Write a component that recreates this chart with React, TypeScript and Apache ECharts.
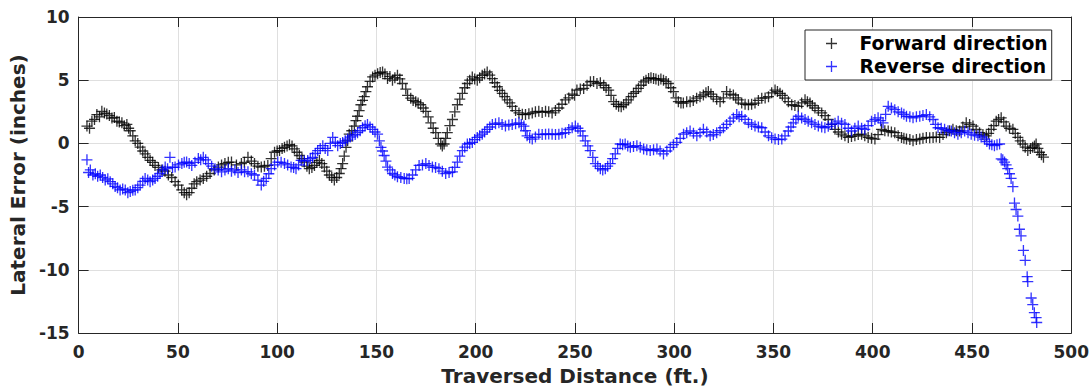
import React, { useEffect, useRef } from "react";
import * as echarts from "echarts";

const xTicks = [0, 50, 100, 150, 200, 250, 300, 350, 400, 450, 500];
const yTicks = [-15, -10, -5, 0, 5, 10];
const seriesNames = ["Forward direction", "Reverse direction"];

const fwdX = [
  4.2, 5.5, 6.7, 8.0, 9.2, 10.5, 11.7, 13.0, 14.2, 15.5, 16.8, 18.0, 19.3, 20.5, 21.8, 23.0, 24.3, 25.2, 26.0, 27.3,
  28.5, 29.8, 31.0, 32.3, 33.5, 34.8, 36.0, 37.3, 38.5, 40.2, 41.9, 43.5, 45.2, 46.9, 48.6, 50.2, 51.9, 53.2, 54.4, 55.7,
  57.0, 58.2, 59.5, 61.2, 62.8, 64.5, 66.2, 68.3, 70.4, 72.0, 73.7, 75.4, 77.0, 79.5, 82.0, 83.5, 85.3, 87.0, 88.6, 90.3,
  92.0, 93.6, 95.3, 97.0, 98.7, 100.0, 101.2, 102.5, 103.7, 105.0, 106.2, 107.5, 108.7, 110.0, 111.2, 112.5, 113.7, 115.0, 116.2, 117.5,
  118.8, 120.0, 121.3, 122.5, 123.8, 125.0, 126.3, 127.5, 128.8, 130.0, 131.3, 132.2, 133.0, 133.8, 134.7, 135.5, 136.3, 137.6, 138.9, 139.7,
  140.5, 141.3, 142.2, 143.0, 143.9, 144.7, 145.5, 146.8, 148.1, 149.3, 150.6, 151.9, 153.1, 154.3, 155.6, 156.8, 158.1, 159.3, 160.6, 161.8,
  163.1, 164.8, 165.7, 167.3, 168.5, 169.8, 171.0, 172.3, 173.6, 174.9, 176.1, 177.4, 178.6, 179.9, 181.2, 182.4, 183.2, 184.1, 184.9, 185.7,
  187.0, 188.3, 189.5, 190.8, 192.0, 193.3, 194.5, 195.8, 197.0, 198.3, 199.5, 200.8, 202.0, 203.3, 204.5, 205.8, 207.1, 208.4, 209.6, 210.9,
  212.1, 213.4, 214.6, 215.9, 217.2, 218.4, 220.1, 221.8, 223.5, 225.1, 226.8, 228.5, 230.1, 231.8, 233.5, 235.2, 236.8, 238.5, 240.2, 241.9,
  243.5, 245.2, 246.9, 248.6, 249.8, 251.0, 252.7, 254.4, 256.1, 257.8, 259.4, 261.1, 262.8, 264.5, 265.7, 267.0, 268.2, 269.5, 270.8, 272.0,
  273.3, 274.5, 275.8, 277.0, 278.3, 279.5, 280.8, 282.0, 283.3, 284.6, 285.8, 287.1, 288.3, 289.6, 290.8, 292.1, 293.3, 294.6, 295.9, 297.1,
  298.3, 299.6, 300.9, 302.1, 303.4, 304.6, 306.3, 308.0, 309.6, 311.3, 313.0, 314.7, 316.0, 317.2, 318.5, 319.7, 321.4, 323.1, 324.8, 326.4,
  328.1, 329.8, 331.0, 332.3, 334.0, 335.7, 337.4, 339.0, 340.7, 342.4, 344.1, 345.8, 347.5, 349.1, 350.8, 352.0, 353.3, 354.5, 355.8, 357.5,
  359.2, 360.8, 362.5, 364.2, 365.9, 367.1, 368.4, 369.6, 370.9, 372.6, 374.3, 376.0, 377.6, 379.3, 381.0, 382.7, 384.3, 386.0, 387.7, 389.3,
  391.0, 392.7, 394.4, 396.0, 397.7, 399.4, 401.1, 402.7, 404.4, 406.1, 407.8, 409.4, 411.1, 412.8, 414.5, 415.7, 417.0, 418.7, 420.3, 422.0,
  423.7, 425.3, 427.0, 428.7, 430.4, 432.0, 433.7, 435.4, 437.1, 438.7, 440.4, 442.1, 443.8, 445.4, 447.1, 448.8, 450.5, 452.1, 453.8, 455.5,
  457.2, 458.4, 459.7, 461.0, 462.2, 463.4, 464.7, 466.0, 467.2, 468.9, 470.6, 471.8, 473.1, 474.3, 475.6, 476.8, 478.1, 479.4, 480.6, 481.5,
  482.3, 483.2, 484.0, 485.0, 486.0,
];
const fwdY = [
  1.37, 1.2, 1.76, 1.9, 2.28, 2.1, 2.54, 2.4, 2.33, 2.2, 2.0, 2.05, 1.76, 1.7, 1.63, 1.4, 1.5, 1.2, 1.0, 0.6,
  0.2, 0.0, -0.3, -0.6, -0.83, -1.1, -1.35, -1.5, -1.74, -1.9, -2.1, -2.2, -2.5, -2.7, -3.03, -3.3, -3.68, -3.9, -4.07, -3.9,
  -3.55, -3.2, -3.03, -2.9, -2.77, -2.6, -2.38, -2.1, -1.87, -1.7, -1.6, -1.5, -1.48, -1.7, -1.6, -1.5, -1.1, -1.4, -1.6, -1.8,
  -1.87, -1.8, -1.74, -1.2, -0.7, -0.6, -0.57, -0.4, -0.31, -0.2, -0.1, -0.2, -0.44, -0.7, -0.96, -1.2, -1.48, -1.8, -2.0, -1.9,
  -1.74, -1.5, -1.35, -1.6, -1.87, -2.2, -2.5, -2.7, -2.9, -2.7, -2.38, -2.0, -1.6, -1.0, -0.31, 0.2, 0.73, 1.0, 1.37, 1.8,
  2.15, 2.6, 3.06, 3.4, 3.7, 4.1, 4.48, 4.9, 5.26, 5.4, 5.52, 5.6, 5.65, 5.5, 5.13, 5.3, 5.0, 5.2, 5.39, 5.1,
  4.74, 4.3, 3.8, 3.58, 3.4, 3.3, 3.2, 3.06, 2.8, 2.54, 2.1, 1.63, 1.2, 0.85, 0.4, -0.05, -0.2, -0.05, 0.4, 0.85,
  1.4, 1.89, 2.5, 3.06, 3.5, 3.96, 4.4, 4.74, 5.0, 5.26, 5.1, 5.0, 5.2, 5.39, 5.5, 5.65, 5.4, 5.13, 4.8, 4.48,
  4.2, 3.96, 3.7, 3.45, 3.2, 2.93, 2.6, 2.41, 2.3, 2.28, 2.35, 2.41, 2.5, 2.54, 2.45, 2.54, 2.5, 2.41, 2.6, 2.8,
  3.1, 3.45, 3.6, 3.9, 3.8, 4.22, 4.3, 4.35, 4.6, 4.87, 4.9, 4.74, 4.8, 4.6, 4.4, 4.22, 3.8, 3.3, 3.1, 2.93,
  2.9, 3.06, 3.2, 3.45, 3.7, 3.96, 4.1, 4.35, 4.6, 4.87, 5.0, 5.13, 5.2, 5.13, 5.1, 5.0, 5.1, 5.0, 4.9, 4.74,
  4.4, 4.1, 3.6, 3.3, 3.2, 3.19, 3.3, 3.3, 3.4, 3.58, 3.7, 3.83, 4.0, 4.1, 3.9, 3.7, 3.5, 3.3, 3.6, 4.1,
  3.9, 3.83, 3.6, 3.45, 3.19, 3.1, 3.06, 3.1, 3.19, 3.4, 3.58, 3.6, 3.7, 4.0, 4.22, 4.1, 3.96, 3.8, 3.58, 3.3,
  3.06, 3.0, 2.93, 3.2, 3.45, 3.3, 3.19, 3.0, 2.8, 2.6, 2.41, 2.2, 1.89, 1.5, 1.11, 0.9, 0.73, 0.6, 0.47, 0.55,
  0.6, 0.7, 0.73, 0.6, 0.47, 0.4, 0.34, 0.7, 1.11, 1.0, 0.98, 0.9, 0.85, 0.6, 0.47, 0.4, 0.34, 0.3, 0.2, 0.3,
  0.34, 0.4, 0.47, 0.45, 0.47, 0.5, 0.47, 0.7, 0.85, 1.0, 1.11, 1.0, 0.98, 1.3, 1.63, 1.5, 1.37, 1.1, 0.85, 0.7,
  0.6, 0.8, 1.11, 1.4, 1.76, 1.9, 2.02, 1.7, 1.37, 1.2, 1.11, 0.8, 0.47, 0.2, -0.05, -0.3, -0.57, -0.4, -0.31, -0.2,
  -0.05, -0.4, -0.7, -0.9, -1.09,
];

const revX = [
  4.2, 5.0, 5.9, 7.2, 8.4, 9.6, 10.9, 12.1, 13.4, 14.7, 15.9, 17.2, 18.4, 19.6, 20.9, 22.2, 23.5, 24.8, 26.0, 27.3,
  28.5, 29.8, 31.0, 32.3, 33.5, 34.8, 36.0, 37.3, 38.5, 39.8, 41.0, 42.3, 43.6, 44.8, 46.0, 47.3, 48.6, 50.3, 52.0, 53.2,
  54.4, 55.7, 57.0, 58.6, 60.3, 61.5, 62.8, 64.0, 65.3, 67.0, 68.7, 70.3, 72.0, 73.7, 75.4, 77.0, 78.7, 80.3, 82.0, 83.6,
  85.3, 87.0, 88.6, 90.3, 92.0, 93.2, 94.5, 95.8, 97.0, 98.7, 100.3, 102.0, 103.7, 105.3, 107.0, 108.3, 109.5, 110.8, 112.1, 113.7,
  115.4, 116.7, 117.9, 119.2, 120.4, 121.7, 123.0, 124.2, 125.5, 126.8, 128.0, 129.3, 130.5, 131.8, 133.0, 134.3, 135.5, 136.8, 138.0, 139.3,
  140.5, 141.8, 143.0, 144.3, 145.5, 146.8, 148.1, 149.3, 150.6, 151.5, 152.3, 153.1, 153.9, 154.8, 155.6, 156.8, 158.1, 159.3, 160.6, 162.3,
  164.0, 165.3, 166.5, 168.2, 169.8, 171.5, 173.2, 174.9, 176.5, 178.2, 179.8, 181.5, 183.2, 184.9, 186.6, 188.3, 189.5, 190.8, 192.0, 193.3,
  194.5, 195.8, 197.0, 198.3, 199.5, 200.8, 202.0, 203.3, 204.5, 205.8, 207.1, 208.4, 210.0, 211.7, 213.3, 215.0, 216.7, 218.4, 220.1, 221.8,
  223.0, 224.3, 225.1, 225.9, 227.2, 228.5, 230.1, 231.8, 233.5, 235.2, 236.8, 238.5, 240.2, 241.9, 243.5, 245.2, 246.9, 248.6, 250.2, 251.5,
  252.7, 254.0, 255.2, 256.5, 257.7, 259.0, 260.3, 261.5, 262.8, 264.0, 265.3, 266.5, 267.8, 269.0, 270.3, 271.5, 272.8, 274.0, 275.3, 276.6,
  277.9, 279.5, 281.2, 282.9, 284.6, 286.2, 287.9, 289.6, 291.3, 292.9, 294.6, 296.3, 298.0, 299.6, 301.3, 303.0, 304.7, 306.3, 308.0, 309.7,
  311.4, 313.0, 314.7, 316.4, 318.1, 319.7, 321.4, 323.1, 324.8, 326.4, 328.1, 329.8, 331.5, 332.7, 334.0, 335.7, 337.4, 339.0, 340.7, 342.4,
  344.1, 345.8, 347.5, 349.1, 350.8, 352.5, 354.2, 355.8, 357.5, 358.8, 360.0, 361.3, 362.5, 364.2, 365.9, 367.5, 369.2, 370.9, 372.6, 374.3,
  375.9, 377.6, 379.3, 381.0, 382.6, 384.3, 386.0, 387.7, 389.3, 391.0, 392.7, 394.4, 396.0, 397.7, 399.4, 401.1, 402.7, 404.0, 405.2, 406.5,
  407.8, 409.4, 411.1, 412.8, 414.5, 415.7, 417.0, 418.7, 420.3, 422.0, 423.7, 425.3, 427.0, 428.7, 430.4, 431.6, 432.9, 434.5, 436.2, 437.9,
  439.6, 441.2, 442.9, 444.6, 446.3, 448.0, 449.6, 451.3, 453.0, 454.6, 456.3, 457.5, 458.8, 460.0, 461.3, 462.6, 463.9, 464.7, 465.5, 466.4,
  467.2, 468.0, 468.9, 469.7, 470.6, 471.4, 472.2, 473.1, 473.9, 474.7, 475.9, 476.8, 477.8, 478.1, 479.8, 480.6, 481.4, 482.3, 482.6,
];
const revY = [
  -1.3, -2.3, -2.1, -2.5, -2.4, -2.6, -2.5, -2.7, -2.9, -2.8, -3.03, -3.2, -3.4, -3.5, -3.68, -3.6, -3.68, -3.9, -3.8, -3.7,
  -3.68, -3.5, -3.3, -3.0, -2.77, -2.9, -3.03, -2.9, -2.77, -2.6, -2.38, -2.1, -1.87, -2.0, -1.1, -1.9, -1.87, -1.7, -1.6, -1.5,
  -1.48, -1.6, -1.74, -1.5, -1.2, -1.3, -1.1, -1.3, -1.6, -1.8, -2.0, -2.1, -2.25, -2.1, -2.0, -2.2, -2.1, -2.3, -2.1, -2.25,
  -2.25, -2.4, -2.5, -2.9, -3.3, -3.0, -2.77, -2.4, -2.0, -1.7, -1.48, -1.5, -1.6, -1.7, -1.87, -1.9, -2.0, -1.7, -1.35, -1.4,
  -1.35, -1.2, -1.1, -0.8, -0.57, -0.4, -0.18, -0.4, -0.57, 0.0, 0.47, 0.1, -0.18, 0.0, 0.08, 0.2, 0.34, 0.5, 0.6, 0.7,
  0.85, 1.0, 1.24, 1.4, 1.5, 1.3, 1.11, 0.9, 0.73, 0.2, -0.31, -0.6, -0.96, -1.4, -1.87, -2.1, -2.38, -2.5, -2.64, -2.7,
  -2.77, -2.8, -2.77, -2.5, -2.1, -1.74, -1.7, -1.6, -1.75, -1.87, -1.9, -2.0, -2.2, -2.38, -2.3, -2.25, -1.9, -1.48, -1.0, -0.57,
  -0.3, -0.05, 0.0, 0.08, 0.3, 0.47, 0.6, 0.73, 0.9, 1.11, 1.3, 1.5, 1.55, 1.63, 1.5, 1.37, 1.45, 1.5, 1.55, 1.63,
  1.5, 1.37, 1.0, 0.6, 0.45, 0.34, 0.5, 0.73, 0.7, 0.73, 0.75, 0.73, 0.7, 0.73, 0.8, 0.85, 1.1, 1.24, 1.37, 1.2,
  0.98, 0.6, 0.2, -0.2, -0.57, -1.1, -1.6, -1.8, -2.0, -2.1, -2.0, -1.8, -1.6, -1.2, -0.83, -0.4, -0.05, -0.1, -0.05, -0.2,
  -0.31, -0.25, -0.18, -0.3, -0.44, -0.5, -0.57, -0.5, -0.44, -0.6, -0.83, -0.6, -0.31, -0.1, 0.08, 0.4, 0.73, 0.85, 0.98, 0.8,
  0.6, 0.85, 1.11, 0.9, 0.6, 0.7, 0.85, 1.0, 1.24, 1.5, 1.76, 2.0, 2.28, 2.1, 2.15, 1.9, 1.63, 1.5, 1.37, 1.3,
  1.24, 0.9, 0.6, 0.45, 0.34, 0.3, 0.34, 0.6, 0.98, 1.3, 1.63, 1.9, 2.15, 2.0, 1.89, 1.75, 1.63, 1.5, 1.37, 1.3,
  1.24, 1.35, 1.5, 1.6, 1.76, 1.6, 1.5, 1.2, 0.98, 1.2, 1.37, 1.2, 1.11, 1.4, 1.76, 1.9, 2.02, 1.8, 1.63, 2.3,
  2.93, 2.8, 2.67, 2.5, 2.41, 2.3, 2.15, 2.1, 2.02, 2.1, 2.15, 2.2, 2.28, 2.1, 1.89, 1.5, 1.24, 1.2, 1.11, 1.0,
  0.98, 0.85, 0.73, 0.85, 0.98, 0.85, 0.73, 0.65, 0.6, 0.5, 0.34, 0.15, -0.05, -0.1, -0.18, -0.1, -0.05, -1.22, -1.3, -1.48,
  -1.7, -2.0, -2.4, -2.77, -3.42, -4.72, -5.23, -5.75, -6.79, -7.31, -8.47, -9.25, -10.54, -10.93, -12.23, -12.75, -13.39, -13.78, -14.17,
];

const PLUS = "path://M0,4.4H10V5.6H0Z M4.4,0H5.6V10H4.4Z";
const FONT = "DejaVu Sans";
const INK = "#262626";

export default function App() {
  const ref = useRef<HTMLDivElement>(null);
  useEffect(() => {
    if (!ref.current) return;
    const chart = echarts.init(ref.current, undefined, { renderer: "svg" });
    const fwd = fwdX.map((x, i) => [x, fwdY[i]]);
    const rev = revX.map((x, i) => [x, revY[i]]);
    const xMin = xTicks[0];
    const xMax = xTicks[xTicks.length - 1];
    const xInt = xTicks[1] - xTicks[0];
    const yMin = yTicks[0];
    const yMax = yTicks[yTicks.length - 1];
    const yInt = yTicks[1] - yTicks[0];
    const tick = { show: true, inside: true, length: 10, lineStyle: { color: INK, width: 1 } };
    const line = { show: true, onZero: false, lineStyle: { color: INK, width: 1 } };
    chart.setOption({
      animation: false,
      backgroundColor: "#ffffff",
      textStyle: { fontFamily: FONT },
      grid: { left: 77, right: 20, top: 17, bottom: 54, containLabel: false },
      legend: {
        show: true,
        data: seriesNames,
        orient: "vertical",
        left: 805,
        top: 30,
        padding: [4, 4, 4, 21],
        itemGap: 4,
        itemWidth: 46,
        itemHeight: 11,
        borderColor: INK,
        borderWidth: 1,
        backgroundColor: "#ffffff",
        borderRadius: 0,
        textStyle: { fontFamily: FONT, fontWeight: "bold", fontSize: 18.8, color: "#000000" },
      },
      xAxis: [
        {
          type: "value",
          min: xMin,
          max: xMax,
          interval: xInt,
          name: "Traversed Distance (ft.)",
          nameLocation: "middle",
          nameGap: 33,
          nameTextStyle: { fontFamily: FONT, fontWeight: "bold", fontSize: 20, color: INK },
          axisLine: line,
          axisTick: tick,
          axisLabel: { margin: 10, fontFamily: FONT, fontWeight: "bold", fontSize: 17, color: INK },
          splitLine: { show: true, lineStyle: { color: "#dfdfdf", width: 1 } },
        },
        {
          type: "value",
          position: "top",
          min: xMin,
          max: xMax,
          interval: xInt,
          axisLine: line,
          axisTick: tick,
          axisLabel: { show: false },
          splitLine: { show: false },
        },
      ],
      yAxis: [
        {
          type: "value",
          min: yMin,
          max: yMax,
          interval: yInt,
          name: "Lateral Error (inches)",
          nameLocation: "middle",
          nameGap: 46,
          nameTextStyle: { fontFamily: FONT, fontWeight: "bold", fontSize: 20, color: INK },
          axisLine: line,
          axisTick: tick,
          axisLabel: { margin: 9, fontFamily: FONT, fontWeight: "bold", fontSize: 17, color: INK },
          splitLine: { show: true, lineStyle: { color: "#dfdfdf", width: 1 } },
        },
        {
          type: "value",
          position: "right",
          min: yMin,
          max: yMax,
          interval: yInt,
          axisLine: line,
          axisTick: tick,
          axisLabel: { show: false },
          splitLine: { show: false },
        },
      ],
      series: [
        {
          name: seriesNames[0],
          type: "scatter",
          xAxisIndex: 0,
          yAxisIndex: 0,
          data: fwd,
          symbol: PLUS,
          symbolSize: 11,
          itemStyle: { color: "#000000" },
          z: 2,
        },
        {
          name: seriesNames[1],
          type: "scatter",
          xAxisIndex: 0,
          yAxisIndex: 0,
          data: rev,
          symbol: PLUS,
          symbolSize: 11,
          itemStyle: { color: "#0000ff" },
          z: 3,
        },
      ],
    });
    return () => chart.dispose();
  }, []);
  return (
    <div
      ref={ref}
      style={{ position: "fixed", left: 0, top: 0, width: 1092, height: 391, background: "#fff" }}
    />
  );
}
